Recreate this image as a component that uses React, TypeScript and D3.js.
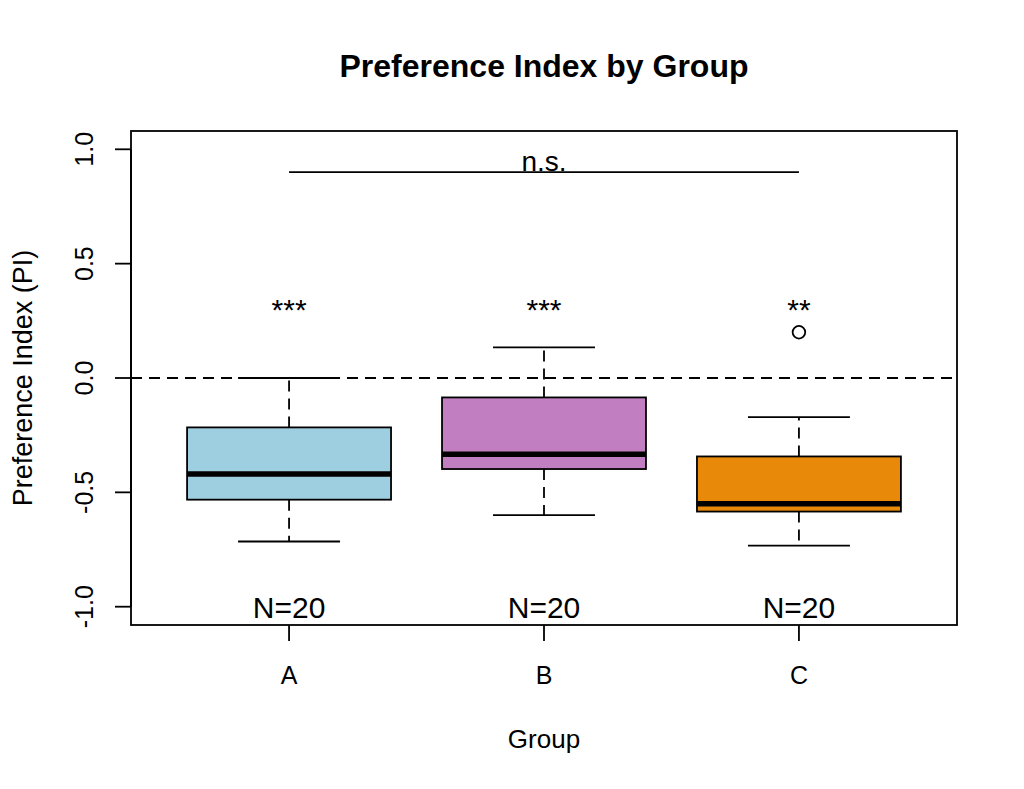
import React, { useEffect, useRef } from "react";
import * as d3 from "d3";

// five-number summaries
const groups = ["A", "B", "C"];
const whiskerLow = [-0.715, -0.6, -0.733];
const q1 = [-0.532, -0.398, -0.584];
const medians = [-0.42, -0.333, -0.55];
const q3 = [-0.216, -0.085, -0.343];
const whiskerHigh = [0.0, 0.134, -0.171];
const outliers = [[], [], [0.2]] as number[][];
const fills = ["#9ECFE0", "#C17FC2", "#E8890A"];
const stars = ["***", "***", "**"];
const counts = [20, 20, 20];
const yTicks = [-1.0, -0.5, 0.0, 0.5, 1.0];

const starLevel = 0.3;
const nsLevel = 0.9;
const nLevel = -1.0;

const FONT = "'Liberation Sans', Arial, Helvetica, sans-serif";

export default function App() {
  const svgRef = useRef<SVGSVGElement>(null);

  useEffect(() => {
    if (!svgRef.current) return;
    const svg = d3.select(svgRef.current);
    svg.selectAll("*").remove();

    const left = 131, right = 957, top = 131, bottom = 625;
    const x = d3.scaleLinear().domain([0.38, 3.62]).range([left, right]);
    const y = d3.scaleLinear().domain([-1.08, 1.08]).range([bottom, top]);
    const boxHalf = 0.4, capHalf = 0.2;
    const dash = "11,7";

    svg.append("rect").attr("width", 1024).attr("height", 789).attr("fill", "#fff");

    // reference line at zero
    svg.append("line")
      .attr("x1", left).attr("x2", right).attr("y1", y(0)).attr("y2", y(0))
      .attr("stroke", "#000").attr("stroke-width", 1.8).attr("stroke-dasharray", dash);

    groups.forEach((g, i) => {
      const cx = x(i + 1);
      const gg = svg.append("g");
      // whiskers
      gg.append("line").attr("x1", cx).attr("x2", cx).attr("y1", y(q3[i])).attr("y2", y(whiskerHigh[i]))
        .attr("stroke", "#000").attr("stroke-width", 1.8).attr("stroke-dasharray", dash);
      gg.append("line").attr("x1", cx).attr("x2", cx).attr("y1", y(q1[i])).attr("y2", y(whiskerLow[i]))
        .attr("stroke", "#000").attr("stroke-width", 1.8).attr("stroke-dasharray", dash);
      [whiskerHigh[i], whiskerLow[i]].forEach(v => {
        gg.append("line").attr("x1", x(i + 1 - capHalf)).attr("x2", x(i + 1 + capHalf))
          .attr("y1", y(v)).attr("y2", y(v)).attr("stroke", "#000").attr("stroke-width", 1.8);
      });
      // box
      gg.append("rect")
        .attr("x", x(i + 1 - boxHalf)).attr("width", x(i + 1 + boxHalf) - x(i + 1 - boxHalf))
        .attr("y", y(q3[i])).attr("height", y(q1[i]) - y(q3[i]))
        .attr("fill", fills[i]).attr("stroke", "#000").attr("stroke-width", 1.8);
      gg.append("line").attr("x1", x(i + 1 - boxHalf)).attr("x2", x(i + 1 + boxHalf))
        .attr("y1", y(medians[i])).attr("y2", y(medians[i]))
        .attr("stroke", "#000").attr("stroke-width", 5.5);
      outliers[i].forEach(v => {
        gg.append("circle").attr("cx", cx).attr("cy", y(v)).attr("r", 6.3)
          .attr("fill", "none").attr("stroke", "#000").attr("stroke-width", 1.8);
      });
      // significance stars and n labels
      gg.append("text").attr("x", cx).attr("y", y(starLevel) + 11)
        .attr("text-anchor", "middle").attr("font-size", 30).text(stars[i]);
      gg.append("text").attr("x", cx).attr("y", y(nLevel) + 11)
        .attr("text-anchor", "middle").attr("font-size", 30).text(`N=${counts[i]}`);
    });

    // between-group comparison bar
    svg.append("line").attr("x1", x(1)).attr("x2", x(3)).attr("y1", y(nsLevel)).attr("y2", y(nsLevel))
      .attr("stroke", "#000").attr("stroke-width", 1.8);
    svg.append("text").attr("x", x(2)).attr("y", y(nsLevel) - 1)
      .attr("text-anchor", "middle").attr("font-size", 28).text("n.s.");

    // plot frame
    svg.append("rect").attr("x", left).attr("y", top).attr("width", right - left).attr("height", bottom - top)
      .attr("fill", "none").attr("stroke", "#000").attr("stroke-width", 1.8);

    // y axis
    const ya = svg.append("g");
    yTicks.forEach(t => {
      ya.append("line").attr("x1", left - 16).attr("x2", left).attr("y1", y(t)).attr("y2", y(t))
        .attr("stroke", "#000").attr("stroke-width", 1.8);
      ya.append("text").attr("transform", `translate(93,${y(t)}) rotate(-90)`)
        .attr("text-anchor", "middle").attr("font-size", 25).text(d3.format(".1f")(t).replace("−", "-"));
    });
    ya.append("line").attr("x1", left).attr("x2", left).attr("y1", y(-1)).attr("y2", y(1))
      .attr("stroke", "#000").attr("stroke-width", 1.8);

    // x axis
    const xa = svg.append("g");
    groups.forEach((g, i) => {
      xa.append("line").attr("x1", x(i + 1)).attr("x2", x(i + 1)).attr("y1", bottom).attr("y2", bottom + 16)
        .attr("stroke", "#000").attr("stroke-width", 1.8);
      xa.append("text").attr("x", x(i + 1)).attr("y", 684)
        .attr("text-anchor", "middle").attr("font-size", 25).text(g);
    });

    // titles
    svg.append("text").attr("x", (left + right) / 2).attr("y", 77)
      .attr("text-anchor", "middle").attr("font-size", 32).attr("font-weight", "bold")
      .text("Preference Index by Group");
    svg.append("text").attr("x", (left + right) / 2).attr("y", 748)
      .attr("text-anchor", "middle").attr("font-size", 26).text("Group");
    svg.append("text").attr("transform", `translate(32,${(top + bottom) / 2}) rotate(-90)`)
      .attr("text-anchor", "middle").attr("font-size", 27).text("Preference Index (PI)");
  }, []);

  return (
    <svg ref={svgRef} width={1024} height={789}
      style={{ position: "absolute", left: 0, top: 0, fontFamily: FONT }} />
  );
}
